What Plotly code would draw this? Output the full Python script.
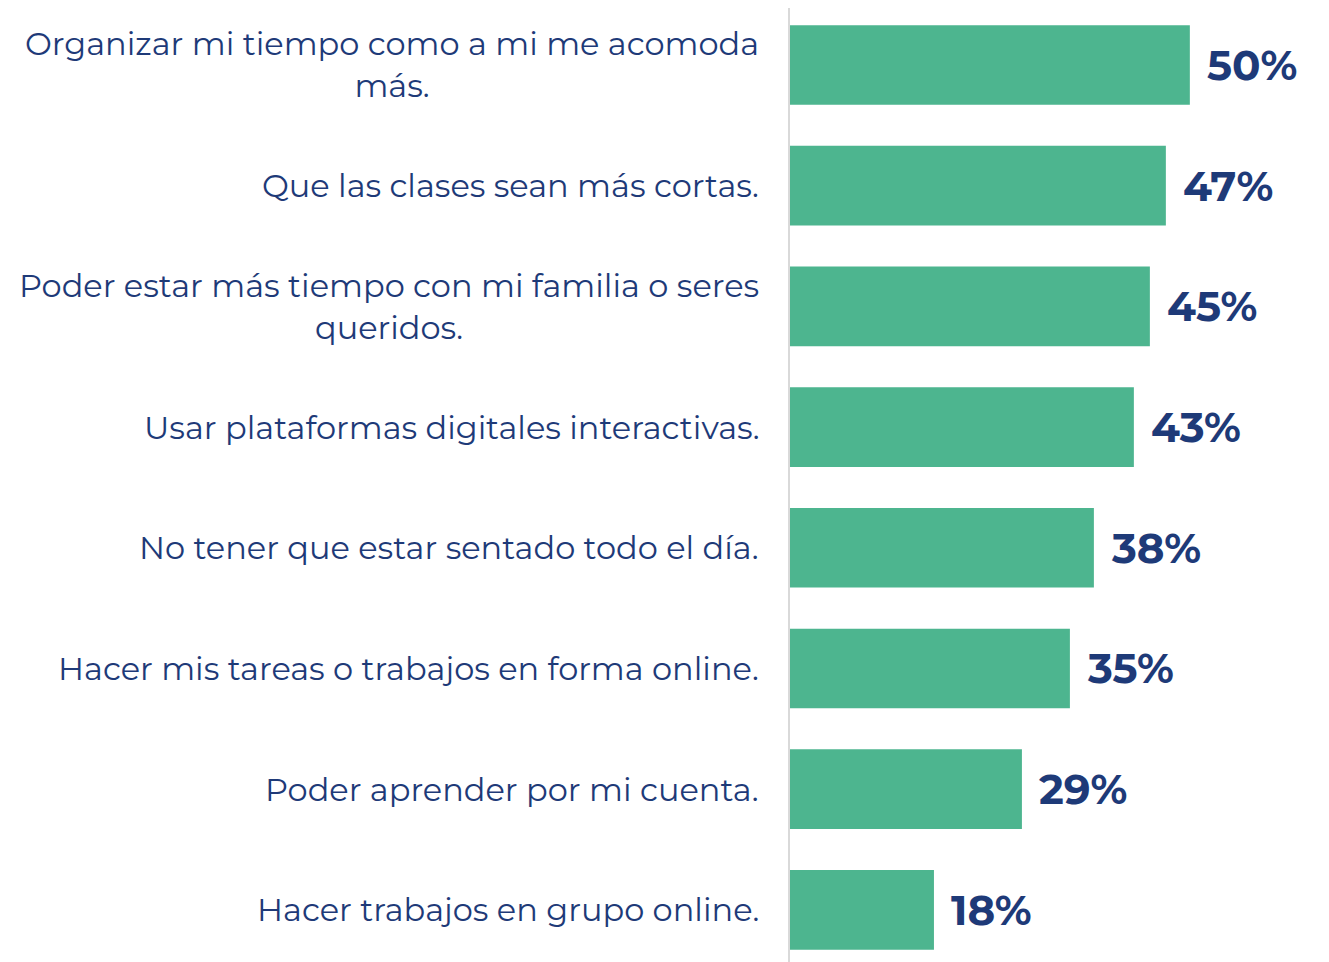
import plotly.graph_objects as go

categories = [
    "Organizar mi tiempo como a mi me acomoda<br>más.",
    "Que las clases sean más cortas.",
    "Poder estar más tiempo con mi familia o seres<br>queridos.",
    "Usar plataformas digitales interactivas.",
    "No tener que estar sentado todo el día.",
    "Hacer mis tareas o trabajos en forma online.",
    "Poder aprender por mi cuenta.",
    "Hacer trabajos en grupo online.",
]
values = [50, 47, 45, 43, 38, 35, 29, 18]
value_labels = ["50%", "47%", "45%", "43%", "38%", "35%", "29%", "18%"]

BAR = "#4DB58F"
NAVY = "#1E3A78"
FONT = "Montserrat, 'DejaVu Sans', sans-serif"

fig = go.Figure()
fig.add_trace(go.Bar(
    x=values,
    y=list(range(len(categories))),
    orientation="h",
    marker=dict(color=BAR, line=dict(width=0)),
    width=0.66,
    hoverinfo="skip",
))

annotations = []
for i, (c, v, lab) in enumerate(zip(categories, values, value_labels)):
    annotations.append(dict(
        x=v, y=i, xref="x", yref="y", text=lab, showarrow=False,
        xanchor="left", yanchor="middle", xshift=15,
        font=dict(family=FONT, size=42, color=NAVY, weight="bold"),
    ))
    annotations.append(dict(
        x=0, y=i, xref="paper", yref="y", text=c, showarrow=False,
        xanchor="right", yanchor="middle", xshift=-29, align="center",
        font=dict(family=FONT, size=32, color=NAVY),
    ))

fig.update_layout(
    width=1329, height=962,
    margin=dict(l=782, r=0, t=0, b=0),
    paper_bgcolor="white", plot_bgcolor="white",
    showlegend=False,
    annotations=annotations,
    xaxis=dict(range=[0, 68.4], showgrid=False, zeroline=False, showticklabels=False, showline=False),
    yaxis=dict(range=[7.498, -0.472], showgrid=False, zeroline=False, showticklabels=False,
               showline=True, linecolor="#D9D9D9", linewidth=2),
)

fig.write_html("out.html")
